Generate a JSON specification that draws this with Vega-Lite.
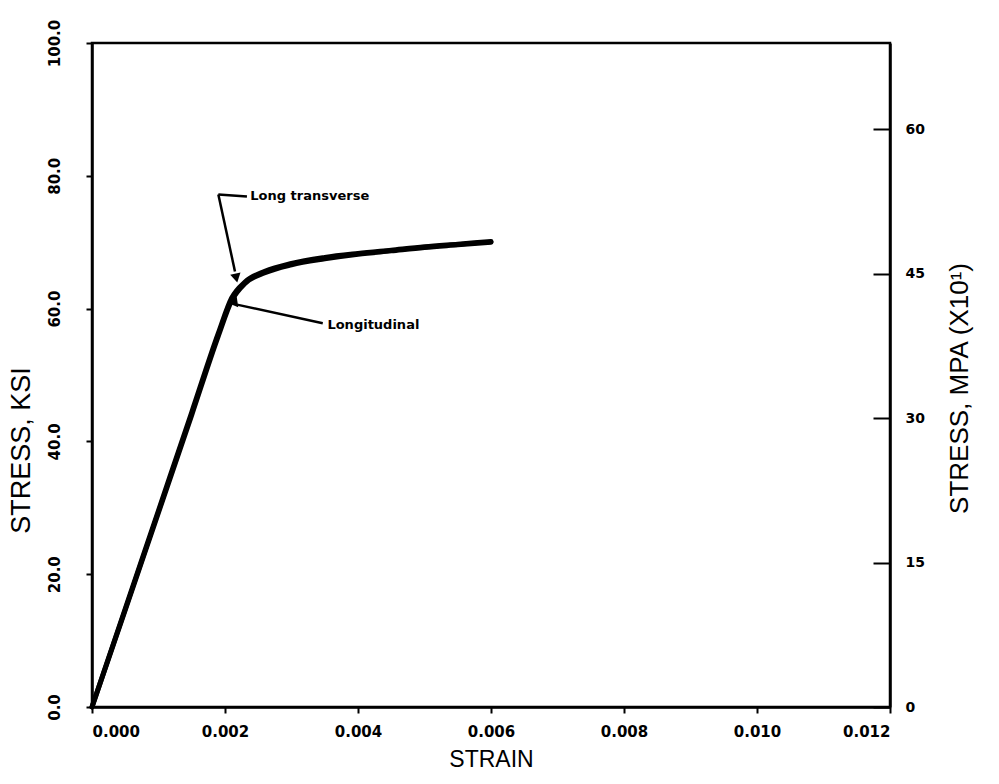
{
  "$schema": "https://vega.github.io/schema/vega-lite/v6.json",
  "width": 798,
  "height": 664,
  "autosize": {"type": "none"},
  "padding": {"left": 92, "top": 43, "right": 109, "bottom": 77},
  "background": "white",
  "config": {
    "view": {"stroke": "black", "strokeWidth": 2.5},
    "axis": {"grid": false, "domainColor": "black", "domainWidth": 2.5, "tickColor": "black", "tickWidth": 2, "labelColor": "black", "titleColor": "black"}
  },
  "datasets": {
    "curves": [
      {"series": "Longitudinal", "strain": 0.0, "stress": 0.0},
      {"series": "Longitudinal", "strain": 0.0005, "stress": 14.8},
      {"series": "Longitudinal", "strain": 0.001, "stress": 29.6},
      {"series": "Longitudinal", "strain": 0.0015, "stress": 44.4},
      {"series": "Longitudinal", "strain": 0.0019, "stress": 56.3},
      {"series": "Longitudinal", "strain": 0.0021, "stress": 61.6},
      {"series": "Longitudinal", "strain": 0.0023, "stress": 64.0},
      {"series": "Longitudinal", "strain": 0.0026, "stress": 65.6},
      {"series": "Longitudinal", "strain": 0.003, "stress": 66.8},
      {"series": "Longitudinal", "strain": 0.0035, "stress": 67.7},
      {"series": "Longitudinal", "strain": 0.004, "stress": 68.3},
      {"series": "Longitudinal", "strain": 0.0045, "stress": 68.8},
      {"series": "Longitudinal", "strain": 0.005, "stress": 69.3},
      {"series": "Longitudinal", "strain": 0.0055, "stress": 69.7},
      {"series": "Longitudinal", "strain": 0.006, "stress": 70.1},
      {"series": "Long transverse", "strain": 0.0, "stress": 0.0},
      {"series": "Long transverse", "strain": 0.0005, "stress": 14.6},
      {"series": "Long transverse", "strain": 0.001, "stress": 29.3},
      {"series": "Long transverse", "strain": 0.0015, "stress": 44.0},
      {"series": "Long transverse", "strain": 0.0019, "stress": 55.9},
      {"series": "Long transverse", "strain": 0.0021, "stress": 61.2},
      {"series": "Long transverse", "strain": 0.0023, "stress": 63.8},
      {"series": "Long transverse", "strain": 0.0026, "stress": 65.4},
      {"series": "Long transverse", "strain": 0.003, "stress": 66.6},
      {"series": "Long transverse", "strain": 0.0035, "stress": 67.5},
      {"series": "Long transverse", "strain": 0.004, "stress": 68.2},
      {"series": "Long transverse", "strain": 0.0045, "stress": 68.7},
      {"series": "Long transverse", "strain": 0.005, "stress": 69.2},
      {"series": "Long transverse", "strain": 0.0055, "stress": 69.6},
      {"series": "Long transverse", "strain": 0.006, "stress": 70.0}
    ],
    "leaders": [
      {"x": 0.00233, "y": 76.9, "x2": 0.00190, "y2": 77.2},
      {"x": 0.00190, "y": 77.2, "x2": 0.00215, "y2": 65.6},
      {"x": 0.00347, "y": 57.8, "x2": 0.00218, "y2": 60.6}
    ],
    "heads": [
      {"x": 0.00217, "y": 64.6, "shape": "triangle-down", "angle": -12},
      {"x": 0.00212, "y": 60.9, "shape": "triangle-left", "angle": -8}
    ],
    "labels": [
      {"label": "Long transverse", "x": 0.00238, "y": 76.9},
      {"label": "Longitudinal", "x": 0.00354, "y": 57.6}
    ]
  },
  "layer": [
    {
      "layer": [
        {
          "data": {"name": "curves"},
          "mark": {"type": "line", "color": "black", "strokeWidth": 5, "strokeCap": "round", "interpolate": "monotone"},
          "encoding": {
            "x": {"field": "strain", "type": "quantitative", "scale": {"domain": [0, 0.012], "nice": false, "zero": false},
              "axis": {"values": [0, 0.002, 0.004, 0.006, 0.008, 0.01, 0.012], "format": ".3f", "title": "STRAIN",
                "labelFont": "DejaVu Sans", "labelFontWeight": "bold", "labelFontSize": 15, "labelPadding": 11, "tickSize": 6,
                "titleFont": "Liberation Sans", "titleFontSize": 23, "titleFontWeight": "normal", "titlePadding": 9}},
            "y": {"field": "stress", "type": "quantitative", "scale": {"domain": [0, 100], "nice": false},
              "axis": {"values": [0, 20, 40, 60, 80, 100], "format": ".1f", "title": "STRESS, KSI", "orient": "left",
                "labelAngle": 270, "labelAlign": "center", "labelBaseline": "bottom",
                "labelFont": "DejaVu Sans", "labelFontWeight": "bold", "labelFontSize": 15, "labelPadding": 24, "tickSize": 6,
                "titleFont": "Liberation Sans", "titleFontSize": 27, "titleFontWeight": "normal", "titlePadding": 12, "titleY": 407}},
            "detail": {"field": "series"}
          }
        },
        {
          "data": {"name": "leaders"},
          "mark": {"type": "rule", "color": "black", "strokeWidth": 2.5},
          "encoding": {
            "x": {"field": "x", "type": "quantitative"},
            "y": {"field": "y", "type": "quantitative"},
            "x2": {"field": "x2"},
            "y2": {"field": "y2"}
          }
        },
        {
          "data": {"name": "heads"},
          "mark": {"type": "point", "filled": true, "color": "black", "size": 110, "opacity": 1},
          "encoding": {
            "x": {"field": "x", "type": "quantitative"},
            "y": {"field": "y", "type": "quantitative"},
            "shape": {"field": "shape", "type": "nominal", "scale": null, "legend": null},
            "angle": {"field": "angle", "type": "quantitative", "scale": null}
          }
        },
        {
          "data": {"name": "labels"},
          "mark": {"type": "text", "align": "left", "baseline": "middle", "font": "DejaVu Sans", "fontWeight": "bold", "fontSize": 13, "color": "black"},
          "encoding": {
            "x": {"field": "x", "type": "quantitative"},
            "y": {"field": "y", "type": "quantitative"},
            "text": {"field": "label"}
          }
        }
      ]
    },
    {
      "data": {"values": [{"v": 0}]},
      "mark": {"type": "point", "opacity": 0},
      "encoding": {
        "y": {"field": "v", "type": "quantitative", "scale": {"domain": [0, 68.9476], "nice": false},
          "axis": {"orient": "right", "values": [0, 15, 30, 45, 60], "format": "d", "title": "STRESS, MPA (X10¹)",
            "labelFont": "DejaVu Sans", "labelFontWeight": "bold", "labelFontSize": 14, "tickSize": -17, "labelPadding": 32, "labelAlign": "left",
            "titleAngle": 270, "titleBaseline": "top", "titleFont": "Liberation Sans", "titleFontSize": 26, "titleFontWeight": "normal", "titlePadding": 22, "titleY": 345}}
      }
    }
  ],
  "resolve": {"scale": {"y": "independent"}}
}
